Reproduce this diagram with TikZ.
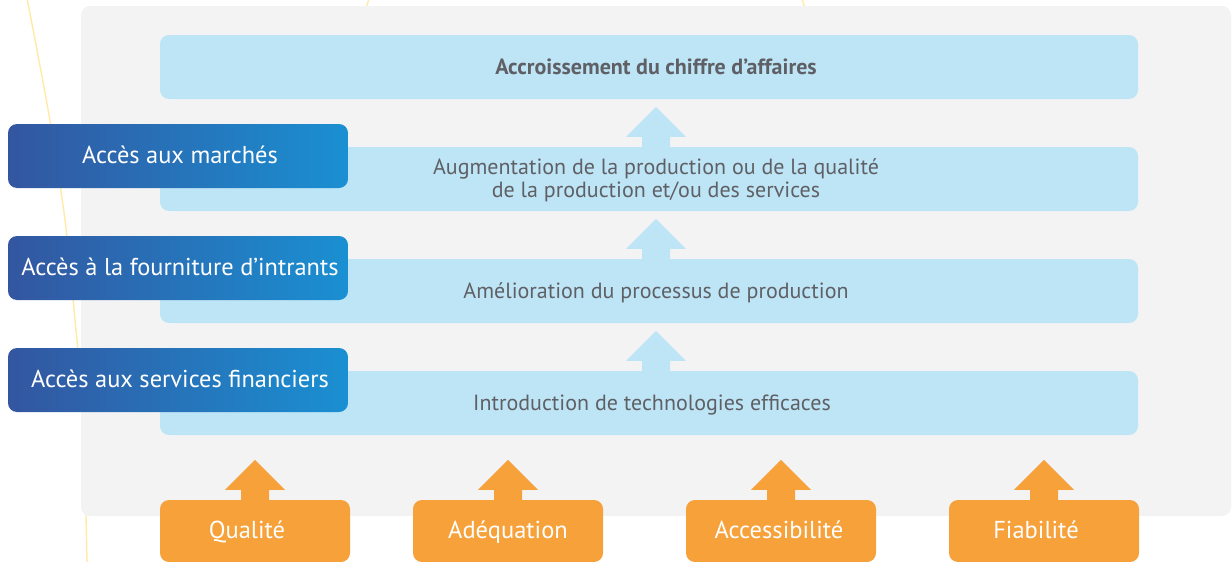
\documentclass[tikz,border=0pt]{standalone}
\usepackage{fontspec}
\setmainfont{PT Sans}
\usetikzlibrary{calc}
\definecolor{panelgray}{HTML}{F3F3F3}
\definecolor{paleblue}{HTML}{BEE5F6}
\definecolor{ochre}{HTML}{F7A13A}
\definecolor{inkgray}{HTML}{5F6065}
\definecolor{navyA}{HTML}{3356A0}
\definecolor{navyB}{HTML}{1A90D2}
\definecolor{sunline}{HTML}{FFEAA6}
\tikzset{
  levelbox/.style={fill=paleblue, rounded corners=9pt, minimum width=978pt, minimum height=64pt, inner sep=0pt},
  leveltext/.style={text=inkgray, font=\fontsize{22}{22.5}\selectfont, align=center, inner sep=0pt, anchor=base},
  accessbox/.style={left color=navyA, right color=navyB, rounded corners=9pt, minimum width=340pt, minimum height=64pt, inner sep=0pt},
  accesstext/.style={text=white, font=\fontsize{24.4}{28}\selectfont, inner sep=0pt, anchor=base},
  factorbox/.style={fill=ochre, rounded corners=9pt, minimum width=190pt, minimum height=62pt, inner sep=0pt},
  factortext/.style={text=white, font=\fontsize{24.5}{28}\selectfont, inner sep=0pt, anchor=base},
}
% upward block arrow: 28 wide shaft (10 long), 60 wide head (30 high)
\newcommand\blockup[2]{%
  \fill[#2] ($(#1)+(-14,1)$) -- ++(0,-11) -- ++(-16,0) -- ++(30,-30) -- ++(30,30) -- ++(-16,0) -- ++(0,11) -- cycle;}
\begin{document}
\begin{tikzpicture}[x=1pt,y=-1pt]
\useasboundingbox (0,0) rectangle (1232,562);
% decorative background curves
\draw[sunline, line width=1.4pt] plot[smooth] coordinates {(27,-2) (49,115) (65,220) (75,320) (80,377) (85,480) (87,564)};
\draw[sunline, line width=1.4pt] (366,8) .. controls (367,4) .. (369,-1);
\draw[sunline, line width=1.4pt] (805,8) .. controls (804,4) .. (802,-1);
% panel
\fill[panelgray, rounded corners=9pt] (81,6) rectangle (1231,516);
% result levels
\node[levelbox] (lv1) at (649,67) {};
\node[levelbox] (lv2) at (649,179) {};
\node[levelbox] (lv3) at (649,291) {};
\node[levelbox] (lv4) at (649,403) {};
% arrows between levels
\blockup{$(lv2.north)+(7,0)$}{paleblue}
\blockup{$(lv3.north)+(7,0)$}{paleblue}
\blockup{$(lv4.north)+(7,0)$}{paleblue}
% level labels (base anchor sits on the last line)
\node[leveltext, font=\fontsize{22}{22.5}\bfseries] (tx1) at ($(lv1)+(7,7.5)$) {Accroissement du chiffre d’affaires};
\node[leveltext] (tx2) at ($(lv2)+(7,18)$) {Augmentation de la production ou de la qualité\\de la production et/ou des services};
\node[leveltext] (tx3) at ($(lv3)+(7,7.5)$) {Amélioration du processus de production};
\node[leveltext] (tx4) at ($(lv4)+(3,7.5)$) {Introduction de technologies efficaces};
% access boxes
\node[accessbox] (ac1) at (178,156) {};
\node[accessbox] (ac2) at (178,268) {};
\node[accessbox] (ac3) at (178,380) {};
\node[accesstext] (at1) at ($(ac1)+(2,7)$) {Accès aux marchés};
\node[accesstext] (at2) at ($(ac2)+(2,7)$) {Accès à la fourniture d’intrants};
\node[accesstext] (at3) at ($(ac3)+(2,7)$) {Accès aux services financiers};
% factor boxes
\node[factorbox] (f1) at (255,531) {};
\node[factorbox] (f2) at (508,531) {};
\node[factorbox] (f3) at (781,531) {};
\node[factorbox] (f4) at (1044,531) {};
\blockup{f1.north}{ochre}
\blockup{f2.north}{ochre}
\blockup{f3.north}{ochre}
\blockup{f4.north}{ochre}
\node[factortext] (ft1) at ($(f1)+(-8,7)$) {Qualité};
\node[factortext] (ft2) at ($(f2)+(0,7)$) {Adéquation};
\node[factortext] (ft3) at ($(f3)+(-2,7)$) {Accessibilité};
\node[factortext] (ft4) at ($(f4)+(-8,7)$) {Fiabilité};
\end{tikzpicture}
\end{document}
